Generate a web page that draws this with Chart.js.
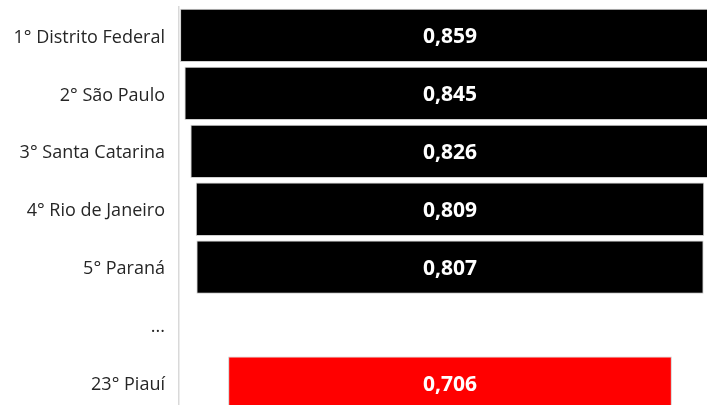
<!DOCTYPE html>
<html>
<head>
<meta charset="utf-8">
<script src="https://cdn.jsdelivr.net/npm/chart.js@4.4.1/dist/chart.umd.min.js"></script>
<style>
html,body{margin:0;padding:0;background:#fff;overflow:hidden;}
#wrap{position:relative;width:707px;height:412px;}
</style>
</head>
<body>
<div id="wrap"><canvas id="c"></canvas></div>
<script>
const categories = ["1° Distrito Federal","2° São Paulo","3° Santa Catarina","4° Rio de Janeiro","5° Paraná","...","23° Piauí"];
const values = [0.859, 0.845, 0.826, 0.809, 0.807, null, 0.706];
const valueLabels = ["0,859","0,845","0,826","0,809","0,807","","0,706"];
const barColors = ["#000000","#000000","#000000","#000000","#000000","#000000","#ff0000"];

const floating = values.map(v => v === null ? null : [-v/2, v/2]);

const labelPlugin = {
  id: 'centerLabels',
  afterDatasetsDraw(chart) {
    const ctx = chart.ctx;
    const meta = chart.getDatasetMeta(0);
    ctx.save();
    ctx.fillStyle = '#ffffff';
    ctx.font = 'bold 21px "Open Sans", sans-serif';
    ctx.textAlign = 'center';
    ctx.textBaseline = 'middle';
    meta.data.forEach((el, i) => {
      if (values[i] === null) return;
      const cx = (el.x + el.base) / 2;
      ctx.fillText(valueLabels[i], cx, el.y + 1.5);
    });
    ctx.restore();
  }
};

new Chart(document.getElementById('c'), {
  type: 'bar',
  data: {
    labels: categories,
    datasets: [{
      data: floating,
      backgroundColor: barColors,
      borderColor: '#d0d0d0',
      borderWidth: 1,
      borderSkipped: false,
      barPercentage: 0.92,
      categoryPercentage: 1.0
    }]
  },
  options: {
    indexAxis: 'y',
    responsive: true,
    maintainAspectRatio: false,
    animation: false,
    layout: { padding: { top: 6.5, left: 0, right: 0, bottom: 0 } },
    plugins: { legend: { display: false }, tooltip: { enabled: false } },
    scales: {
      x: { display: false, min: -0.4312, max: 0.4089 },
      y: {
        grid: { display: false, drawTicks: false },
        border: { display: true, color: '#d9d9d9', width: 1.5 },
        ticks: { color: '#262626', padding: 14, labelOffset: 2, font: { family: 'Open Sans', size: 18 } },
        afterFit(scale) { scale.width = 179; scale.paddingTop = 0; scale.paddingBottom = 0; }
      }
    }
  },
  plugins: [labelPlugin]
});
</script>
</body>
</html>
